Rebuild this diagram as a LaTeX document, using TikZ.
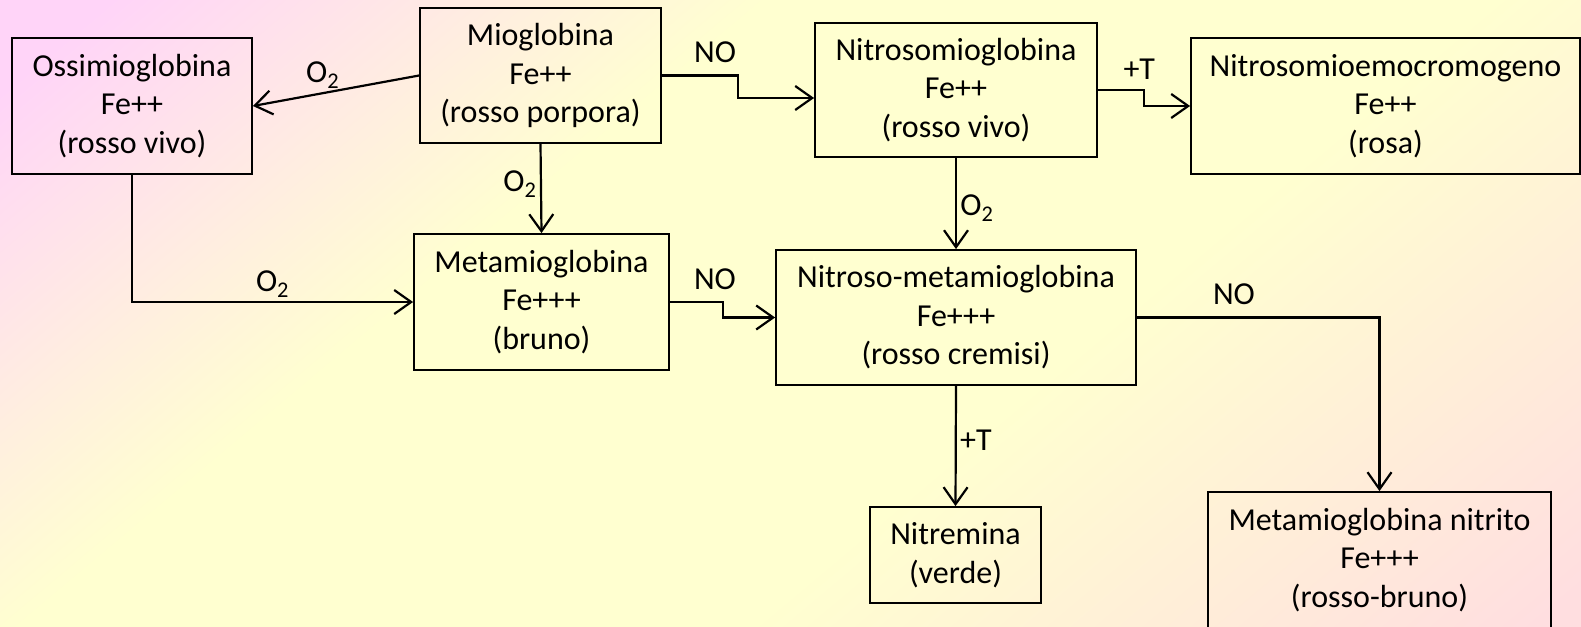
\documentclass[tikz,border=0pt]{standalone}
\usepackage{fontspec}
\setmainfont{Carlito}
\usetikzlibrary{arrows.meta, positioning, calc}
\definecolor{bgpink}{HTML}{FFD4F8}
\definecolor{bgyellow}{HTML}{FFFFD0}
\definecolor{bgrose}{HTML}{FFDEE0}
\pgfdeclareverticalshading{bgfade}{100bp}{color(0bp)=(bgrose); color(16bp)=(bgrose); color(40bp)=(bgyellow); color(62bp)=(bgyellow); color(82bp)=(bgpink); color(100bp)=(bgpink)}
\tikzstyle{box} = [rectangle, draw, line width=1.8pt, align=center, inner sep=0pt]
\tikzstyle{line} = [draw, line width=2.2pt, -{Straight Barb[length=17pt, width=24pt]}]

\begin{document}
\begin{tikzpicture}[x=1pt, y=-1pt, font=\fontsize{32}{38.5}\selectfont]
        \useasboundingbox (0,0) rectangle (1581,626);
        \shade [shading=bgfade, shading angle=40] (0,0) rectangle (1581,626);

        \node [box, minimum width=240pt, minimum height=136pt] (oss) at (132,106) {Ossimioglobina\\Fe++\\(rosso vivo)};
        \node [box, minimum width=241pt, minimum height=135pt] (mio) at (540.5,75.5) {Mioglobina\\Fe++\\(rosso porpora)};
        \node [box, minimum width=282pt, minimum height=134pt] (nsm) at (956,90) {Nitrosomioglobina\\Fe++\\(rosso vivo)};
        \node [box, minimum width=389pt, minimum height=136pt] (nsec) at (1385.5,106) {Nitrosomioemocromogeno\\Fe++\\(rosa)};
        \node [box, minimum width=255pt, minimum height=136pt] (meta) at (541.5,302) {Metamioglobina\\Fe+++\\(bruno)};
        \node [box, minimum width=360pt, minimum height=135pt] (nmeta) at (956,317.5) {Nitroso-metamioglobina\\Fe+++\\(rosso cremisi)};
        \node [box, minimum width=171pt, minimum height=96pt] (nitr) at (955.5,555) {Nitremina\\(verde)};
        \node [box, minimum width=343pt, minimum height=136pt] (mnit) at (1379.5,560) {Metamioglobina nitrito\\Fe+++\\(rosso-bruno)};

        \path [line] (mio.west) -- node[above, pos=0.58] {O\textsubscript{2}} (oss.east);
        \path [line] (mio.south) -- node[left, pos=0.45] {O\textsubscript{2}} (meta.north);
        \path [line] (mio.east) -- ++(76,0) node[above=8pt, pos=0.7] {NO} |- ([yshift=-8pt]nsm.west);
        \path [line] (nsm.east) -- ++(46,0) node[above=6pt, pos=0.9] {+T} |- (nsec.west);
        \path [line] (nsm.south) -- node[right, pos=0.55] {O\textsubscript{2}} (nmeta.north);
        \path [line] (oss.south) |- node[above, pos=0.75] {O\textsubscript{2}} (meta.west);
        \path [line] (meta.east) -- ++(53,0) node[above=8pt, pos=0.85] {NO} |- (nmeta.west);
        \path [line] (nmeta.south) -- node[right, pos=0.45] {+T} (nitr.north);
        \path [line] (nmeta.east) -| node[above=8pt, pos=0.2] {NO} (mnit.north); % NO goes round to the nitrite box
\end{tikzpicture}
\end{document}
